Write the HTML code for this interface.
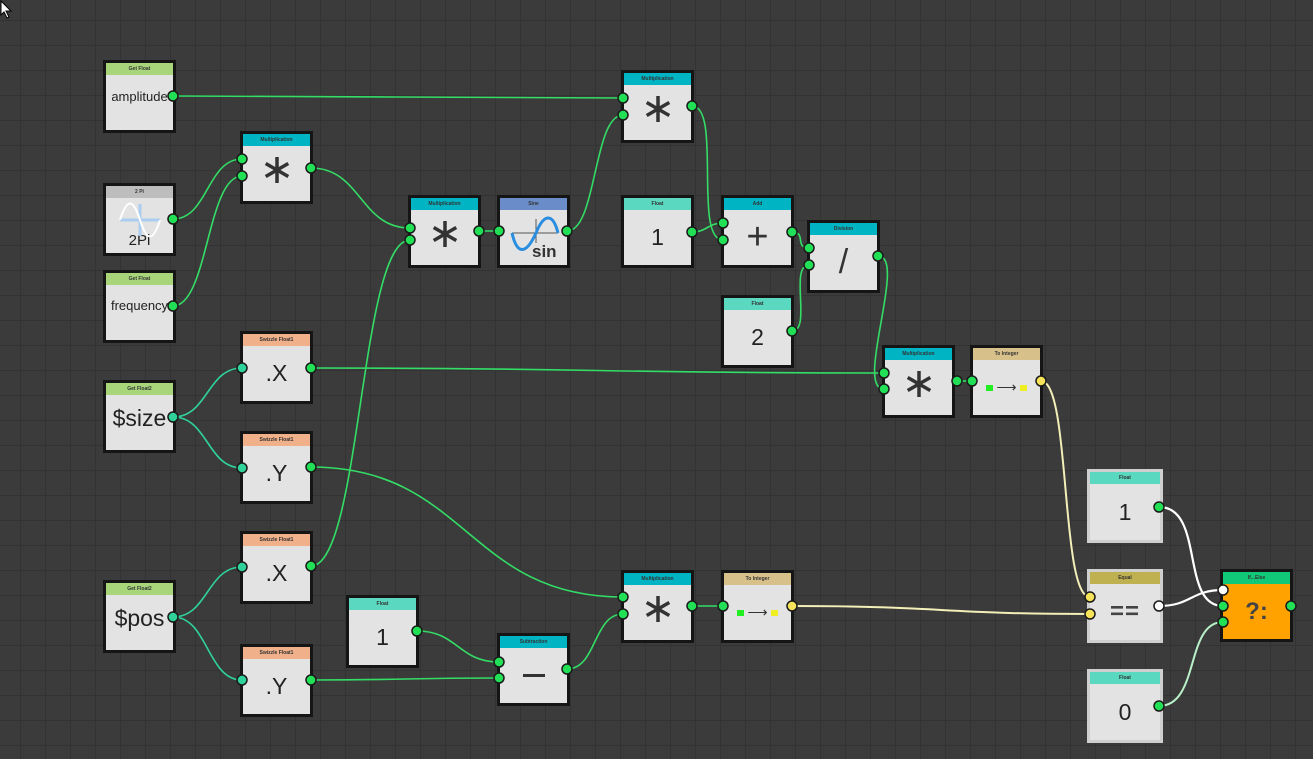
<!DOCTYPE html>
<html><head><meta charset="utf-8"><style>
html,body{margin:0;padding:0}
body{width:1313px;height:759px;overflow:hidden;position:relative;background-color:#3b3b3b;
background-image:linear-gradient(#333 1px,transparent 1px),linear-gradient(90deg,#333 1px,transparent 1px);
background-size:25px 25px;background-position:0 20px,20px 0;font-family:"Liberation Sans",sans-serif}
.n{position:absolute;box-sizing:border-box;border:3px solid #151515;background:#e3e3e3;width:73px;height:73px}
.n.l{border-color:#cfcfcf;width:76px;height:74px}
.h{height:12px;font-size:5px;font-weight:bold;color:#333;text-align:center;line-height:12px}
.b{position:absolute;left:0;right:0;top:12px;bottom:0;display:flex;align-items:center;justify-content:center;color:#222}
.t{font-size:13px}
.big{font-size:23px}
svg{position:absolute;left:0;top:0}
</style></head><body>
<svg width="1313" height="759" fill="none" stroke-width="1.6">
<g stroke="#33dd66">
<path d="M173 96 C398 96 398 98 623 98"/>
<path d="M173 219 C208 219 207 159 242 159"/>
<path d="M173 306 C208 306 207 176 242 176"/>
<path d="M311 168 C361 168 360 228 410 228"/>
<path d="M311 566 C361 566 360 240 410 240"/>
<path d="M479 231 L499 231"/>
<path d="M567 231 C597 231 593 115 623 115"/>
<path d="M692 106 C722 106 693 240 723 240"/>
<path d="M692 232 C707 232 708 223 723 223"/>
<path d="M792 232 C807 232 794 248 809 248"/>
<path d="M792 331 C812 331 789 265 809 265"/>
<path d="M878 256 C908 256 854 389 884 389"/>
<path d="M311 368 C597 368 598 373 884 373"/>
<path d="M311 467 C467 467 467 597 623 597"/>
<path d="M417 631 C458 631 458 662 499 662"/>
<path d="M311 680 C405 680 405 678 499 678"/>
<path d="M567 669 C597 669 593 614 623 614"/>
<path d="M692 606 L723 606"/>
<path d="M957 381 L972 381"/>
</g>
<g stroke="#2fd39a">
<path d="M173 417 C208 417 207 368 242 368"/>
<path d="M173 417 C208 417 207 468 242 468"/>
<path d="M173 617 C208 617 207 567 242 567"/>
<path d="M173 617 C208 617 207 680 242 680"/>
</g>
<g stroke="#f3efb8" stroke-width="2">
<path d="M1041 381 C1071 381 1060 597 1090 597"/>
<path d="M792 606 C941 606 941 614 1090 614"/>
</g>
<g stroke="#fff" stroke-width="2.2">
<path d="M1159 606 C1191 606 1191 590 1223 590"/>
<path d="M1159 507 C1205 507 1180 606 1223 606"/>
</g>
<path d="M1159 706 C1200 706 1185 622 1223 622" stroke="#b8f0c8" stroke-width="2"/>
</svg>

<div class="n" style="left:103px;top:60px"><div class="h" style="background:#a8d47a">Get Float</div><div class="b" style="align-items:flex-start;padding-top:14px"><span class="t">amplitude</span></div></div>
<div class="n" style="left:103px;top:183px"><div class="h" style="background:#bdbdbd">2 Pi</div><div class="b" style="flex-direction:column">
<svg width="50" height="36" style="position:relative"><line x1="25" y1="2" x2="25" y2="34" stroke="#aacdf0" stroke-width="3"/><line x1="5" y1="18" x2="45" y2="18" stroke="#aacdf0" stroke-width="3"/><path d="M5 18 C12 -4 18 -4 25 18 C32 40 38 40 45 18" stroke="#fff" stroke-width="2" fill="none"/></svg><span style="font-size:15px;margin-top:-6px">2Pi</span></div></div>
<div class="n" style="left:103px;top:270px"><div class="h" style="background:#a8d47a">Get Float</div><div class="b" style="align-items:flex-start;padding-top:13px"><span class="t">frequency</span></div></div>
<div class="n" style="left:103px;top:380px"><div class="h" style="background:#a8d47a">Get Float2</div><div class="b" style="align-items:flex-start;padding-top:10px"><span class="big">$size</span></div></div>
<div class="n" style="left:103px;top:580px"><div class="h" style="background:#a8d47a">Get Float2</div><div class="b" style="align-items:flex-start;padding-top:10px"><span class="big">$pos</span></div></div>

<div class="n" style="left:240px;top:131px"><div class="h" style="background:#00b4c4">Multiplication</div><div class="b"><svg width="30" height="30" style="position:relative;top:-4px" stroke="#333" stroke-width="3.5"><line x1="15" y1="2" x2="15" y2="28"/><line x1="3.7" y1="8.5" x2="26.3" y2="21.5"/><line x1="3.7" y1="21.5" x2="26.3" y2="8.5"/></svg></div></div>
<div class="n" style="left:240px;top:331px"><div class="h" style="background:#f0b08a">Swizzle Float1</div><div class="b"><span class="big">.X</span></div></div>
<div class="n" style="left:240px;top:431px"><div class="h" style="background:#f0b08a">Swizzle Float1</div><div class="b"><span class="big">.Y</span></div></div>
<div class="n" style="left:240px;top:531px"><div class="h" style="background:#f0b08a">Swizzle Float1</div><div class="b"><span class="big">.X</span></div></div>
<div class="n" style="left:240px;top:644px"><div class="h" style="background:#f0b08a">Swizzle Float1</div><div class="b"><span class="big">.Y</span></div></div>
<div class="n" style="left:346px;top:595px"><div class="h" style="background:#5ad8c0">Float</div><div class="b"><span class="big">1</span></div></div>
<div class="n" style="left:408px;top:195px"><div class="h" style="background:#00b4c4">Multiplication</div><div class="b"><svg width="30" height="30" style="position:relative;top:-4px" stroke="#333" stroke-width="3.5"><line x1="15" y1="2" x2="15" y2="28"/><line x1="3.7" y1="8.5" x2="26.3" y2="21.5"/><line x1="3.7" y1="21.5" x2="26.3" y2="8.5"/></svg></div></div>
<div class="n" style="left:497px;top:195px"><div class="h" style="background:#6a8cc8">Sine</div><div class="b">
<svg width="56" height="46" style="position:relative"><line x1="30" y1="4" x2="30" y2="28" stroke="#555"/><line x1="6" y1="18" x2="52" y2="18" stroke="#555"/><path d="M6 18 C11 40 20 40 30 18 C38 -2 47 -2 52 18" stroke="#2a8ee0" stroke-width="3" fill="none"/><text x="26" y="42" font-family="Liberation Sans" font-weight="bold" font-size="17" fill="#333">sin</text></svg></div></div>
<div class="n" style="left:497px;top:633px"><div class="h" style="background:#00b4c4">Subtraction</div><div class="b"><div style="width:22px;height:3px;background:#333"></div></div></div>
<div class="n" style="left:621px;top:70px"><div class="h" style="background:#00b4c4">Multiplication</div><div class="b"><svg width="30" height="30" style="position:relative;top:-4px" stroke="#333" stroke-width="3.5"><line x1="15" y1="2" x2="15" y2="28"/><line x1="3.7" y1="8.5" x2="26.3" y2="21.5"/><line x1="3.7" y1="21.5" x2="26.3" y2="8.5"/></svg></div></div>
<div class="n" style="left:621px;top:195px"><div class="h" style="background:#5ad8c0">Float</div><div class="b"><span class="big">1</span></div></div>
<div class="n" style="left:621px;top:570px"><div class="h" style="background:#00b4c4">Multiplication</div><div class="b"><svg width="30" height="30" style="position:relative;top:-4px" stroke="#333" stroke-width="3.5"><line x1="15" y1="2" x2="15" y2="28"/><line x1="3.7" y1="8.5" x2="26.3" y2="21.5"/><line x1="3.7" y1="21.5" x2="26.3" y2="8.5"/></svg></div></div>
<div class="n" style="left:721px;top:195px"><div class="h" style="background:#00b4c4">Add</div><div class="b"><span style="font-size:38px;color:#333">+</span></div></div>
<div class="n" style="left:721px;top:295px"><div class="h" style="background:#5ad8c0">Float</div><div class="b"><span class="big">2</span></div></div>
<div class="n" style="left:721px;top:570px"><div class="h" style="background:#d8c08a">To Integer</div><div class="b"><div style="width:7px;height:6px;background:#2e2"></div><span style="font-size:14px;margin:0 3px;color:#333">&#10230;</span><div style="width:7px;height:6px;background:#ee2"></div></div></div>
<div class="n" style="left:807px;top:220px"><div class="h" style="background:#00b4c4">Division</div><div class="b"><span style="font-size:34px;color:#333">/</span></div></div>
<div class="n" style="left:882px;top:345px"><div class="h" style="background:#00b4c4">Multiplication</div><div class="b"><svg width="30" height="30" style="position:relative;top:-4px" stroke="#333" stroke-width="3.5"><line x1="15" y1="2" x2="15" y2="28"/><line x1="3.7" y1="8.5" x2="26.3" y2="21.5"/><line x1="3.7" y1="21.5" x2="26.3" y2="8.5"/></svg></div></div>
<div class="n" style="left:970px;top:345px"><div class="h" style="background:#d8c08a">To Integer</div><div class="b"><div style="width:7px;height:6px;background:#2e2"></div><span style="font-size:14px;margin:0 3px;color:#333">&#10230;</span><div style="width:7px;height:6px;background:#ee2"></div></div></div>
<div class="n l" style="left:1087px;top:469px"><div class="h" style="background:#5ad8c0">Float</div><div class="b"><span class="big">1</span></div></div>
<div class="n l" style="left:1087px;top:569px"><div class="h" style="background:#bfb050">Equal</div><div class="b"><span style="font-size:24px;font-weight:bold;color:#444;letter-spacing:1px">==</span></div></div>
<div class="n l" style="left:1087px;top:669px"><div class="h" style="background:#5ad8c0">Float</div><div class="b"><span class="big">0</span></div></div>
<div class="n" style="left:1220px;top:569px;background:#ffa200"><div class="h" style="background:#10c878">If...Else</div><div class="b"><span style="font-size:24px;font-weight:bold;color:#444">?:</span></div></div>

<svg width="1313" height="759" stroke="#1a1a1a" stroke-width="1.5">
<g fill="#22e055">
<circle cx="173" cy="96" r="5"/><circle cx="173" cy="219" r="5"/><circle cx="173" cy="306" r="5"/>
<circle cx="242" cy="159" r="5"/><circle cx="242" cy="176" r="5"/><circle cx="311" cy="168" r="5"/>
<circle cx="311" cy="368" r="5"/><circle cx="311" cy="467" r="5"/><circle cx="311" cy="566" r="5"/><circle cx="311" cy="680" r="5"/>
<circle cx="417" cy="631" r="5"/><circle cx="410" cy="228" r="5"/><circle cx="410" cy="240" r="5"/><circle cx="479" cy="231" r="5"/>
<circle cx="499" cy="231" r="5"/><circle cx="567" cy="231" r="5"/>
<circle cx="499" cy="662" r="5"/><circle cx="499" cy="678" r="5"/><circle cx="567" cy="669" r="5"/>
<circle cx="623" cy="98" r="5"/><circle cx="623" cy="115" r="5"/><circle cx="692" cy="106" r="5"/>
<circle cx="692" cy="232" r="5"/>
<circle cx="623" cy="597" r="5"/><circle cx="623" cy="614" r="5"/><circle cx="692" cy="606" r="5"/>
<circle cx="723" cy="223" r="5"/><circle cx="723" cy="240" r="5"/><circle cx="792" cy="232" r="5"/>
<circle cx="792" cy="331" r="5"/><circle cx="723" cy="606" r="5"/>
<circle cx="809" cy="248" r="5"/><circle cx="809" cy="265" r="5"/><circle cx="878" cy="256" r="5"/>
<circle cx="884" cy="373" r="5"/><circle cx="884" cy="389" r="5"/><circle cx="957" cy="381" r="5"/><circle cx="972" cy="381" r="5"/>
<circle cx="1159" cy="507" r="5"/><circle cx="1159" cy="706" r="5"/>
<circle cx="1223" cy="606" r="5"/><circle cx="1223" cy="622" r="5"/><circle cx="1291" cy="606" r="5"/>
</g>
<g fill="#2fd39a">
<circle cx="173" cy="417" r="5"/><circle cx="173" cy="617" r="5"/>
<circle cx="242" cy="368" r="5"/><circle cx="242" cy="468" r="5"/><circle cx="242" cy="567" r="5"/><circle cx="242" cy="680" r="5"/>
</g>
<g fill="#f7e35a">
<circle cx="792" cy="606" r="5"/><circle cx="1041" cy="381" r="5"/><circle cx="1090" cy="597" r="5"/><circle cx="1090" cy="614" r="5"/>
</g>
<g fill="#fff"><circle cx="1159" cy="606" r="5"/><circle cx="1223" cy="590" r="5"/></g>
</svg>
<svg width="14" height="20" style="left:0;top:0"><path d="M1 1 L1 15 L4 12 L7 18 L9 17 L6 11 L11 11 Z" fill="#fff" stroke="#000" stroke-width="1"/></svg>
</body></html>
